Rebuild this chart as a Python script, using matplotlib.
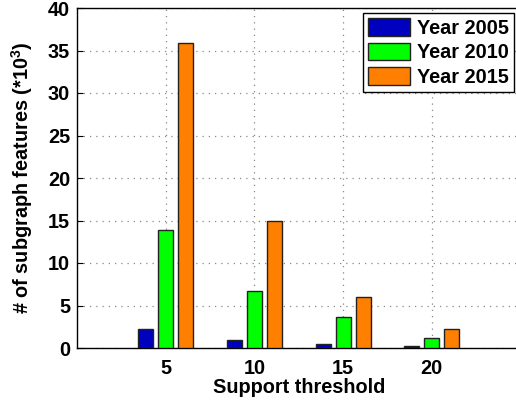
import matplotlib
matplotlib.use("Agg")
import matplotlib.pyplot as plt
import numpy as np

thresholds = [5, 10, 15, 20]
year_2005 = [2.2, 1.0, 0.5, 0.25]
year_2010 = [13.9, 6.7, 3.7, 1.2]
year_2015 = [35.9, 15.0, 6.0, 2.2]
series_labels = ["Year 2005", "Year 2010", "Year 2015"]
colors = ["#0000bf", "#00ff00", "#ff8000"]

plt.rcParams['font.family'] = ['Liberation Sans', 'DejaVu Sans']
plt.rcParams['font.weight'] = 'bold'
plt.rcParams['mathtext.fontset'] = 'custom'
plt.rcParams['mathtext.rm'] = 'Liberation Sans:bold'
plt.rcParams['mathtext.it'] = 'Liberation Sans:bold'
plt.rcParams['mathtext.bf'] = 'Liberation Sans:bold'

FS = 14.3

fig = plt.figure(figsize=(5.16, 4.05), dpi=100)
ax = fig.add_axes([77/516, 57/405, 443.5/516, 340/405])

x = np.array(thresholds, dtype=float)
offset = 1.13
width = 0.85
for i, (vals, lab, c) in enumerate(zip([year_2005, year_2010, year_2015], series_labels, colors)):
    ax.bar(x + (i - 1) * offset, vals, width=width, color=c, edgecolor='#222222',
           linewidth=1.0, label=lab, zorder=3)

ax.set_xlim(0, 25)
ax.set_ylim(0, 40)
ax.set_xticks(thresholds)
ax.set_yticks(np.arange(0, 41, 5))
ax.tick_params(direction='in', labelsize=FS, length=4, width=0.8)
ax.tick_params(axis='y', pad=5)
ax.tick_params(axis='x', pad=8)
for lbl in ax.get_xticklabels() + ax.get_yticklabels():
    lbl.set_fontweight('bold')
ax.grid(True, linestyle=(0, (1, 4)), color='#888888', linewidth=0.9, zorder=0)
ax.set_axisbelow(True)
for s in ax.spines.values():
    s.set_linewidth(1.0)

ax.set_xlabel("Support threshold", fontsize=FS, fontweight='bold', labelpad=0)
ax.set_ylabel(r"# of subgraph features (*10$^{3}$)", fontsize=FS, fontweight='bold', labelpad=9)

leg = ax.legend(loc='upper right', bbox_to_anchor=(0.9845, 0.985), fontsize=FS,
                frameon=True, fancybox=False, edgecolor='black', framealpha=1,
                handlelength=2.1, handleheight=1.0, handletextpad=0.35,
                borderpad=0.25, labelspacing=0.25, borderaxespad=0)
leg.get_frame().set_linewidth(1.0)
for t in leg.get_texts():
    t.set_fontweight('bold')

fig.savefig("out.png", dpi=100)
